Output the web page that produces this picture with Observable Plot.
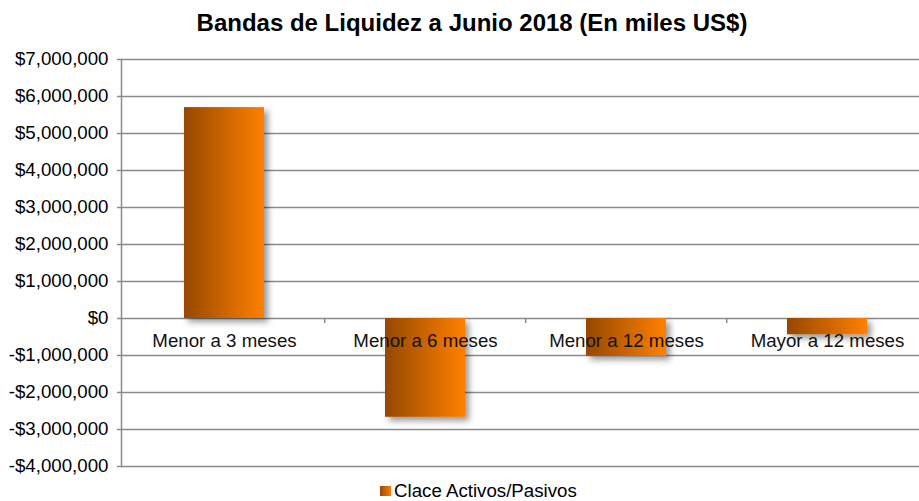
<!DOCTYPE html>
<html>
<head>
<meta charset="utf-8">
<script src="https://cdn.jsdelivr.net/npm/d3@7"></script>
<script src="https://cdn.jsdelivr.net/npm/@observablehq/plot@0.6"></script>
<style>
  html, body { margin: 0; padding: 0; background: #fff; }
  #wrap { position: relative; width: 919px; height: 501px; overflow: hidden; font-family: "Liberation Sans", Arial, sans-serif; color: #000; }
  #title { position: absolute; left: 0; top: 11px; width: 944px; text-align: center; font-weight: bold; font-size: 24px; line-height: 24px; white-space: nowrap; }
  #chart { position: absolute; left: 0; top: 45px; }
  #legend { position: absolute; left: 380px; top: 481px; font-size: 18.7px; line-height: 19px; white-space: nowrap; display: flex; align-items: center; }
  #legend .sw { display: inline-block; width: 11px; height: 10px; margin-right: 3px; background: linear-gradient(to right, #964800, #ff8000); }
</style>
</head>
<body>
<div id="wrap">
  <div id="title"></div>
  <div id="chart"></div>
  <div id="legend"><span class="sw"></span><span id="legtext"></span></div>
</div>
<script>
const chartTitle = "Bandas de Liquidez a Junio 2018 (En miles US$)";
const seriesName = "Clace Activos/Pasivos";
const categories = ["Menor a 3 meses", "Menor a 6 meses", "Menor a 12 meses", "Mayor a 12 meses"];
const values = [5700000, -2670000, -1020000, -440000];
const yTicks = [-4000000, -3000000, -2000000, -1000000, 0, 1000000, 2000000, 3000000, 4000000, 5000000, 6000000, 7000000];

document.getElementById("title").textContent = chartTitle;
document.getElementById("legtext").textContent = seriesName;

const data = categories.map((c, i) => ({category: c, value: values[i]}));
const fmt = d => (d < 0 ? "-" : "") + "$" + d3.format(",")(Math.abs(d));

const H = 430, mTop = 14, mBottom = 9;
const pxPerUnit = (H - mTop - mBottom) / (yTicks[yTicks.length - 1] - yTicks[0]);
const tickLen = 5 / pxPerUnit;
const step = (929 - 122.5) / categories.length;

const gridColor = "#8a8a8a";
const fs = 18.7;

const svg = Plot.plot({
  width: 919,
  height: H,
  marginTop: mTop,
  marginBottom: mBottom,
  marginLeft: 121,
  marginRight: 0,
  style: {fontFamily: "Liberation Sans, Arial, sans-serif", fontSize: fs + "px", color: "#000", background: "#fff"},
  x: {domain: categories, range: [122.5, 929], paddingInner: 0.6, paddingOuter: 0.3, axis: null},
  y: {domain: [yTicks[0], yTicks[yTicks.length - 1]], axis: null},
  marks: [
    Plot.gridY(yTicks, {stroke: gridColor, strokeOpacity: 1, strokeWidth: 1.5}),
    Plot.frame({anchor: "left", stroke: gridColor, strokeWidth: 1.5}),
    Plot.axisY(yTicks, {tickFormat: fmt, tickSize: 4, tickPadding: 9, stroke: gridColor, strokeWidth: 1.5, fontSize: fs, fill: "#000", label: null}),
    Plot.ruleX(categories.slice(1), {x: d => d, y1: 0, y2: -tickLen, dx: -step / 2, stroke: gridColor, strokeWidth: 1.5}),
    Plot.barY(data, {x: "category", y: "value", fill: "url(#barGrad)"}),
    Plot.text(data, {x: "category", y: 0, text: "category", dy: 23, fontSize: fs, fill: "#111"})
  ]
});

const defs = d3.select(svg).insert("defs", ":first-child");
const g = defs.append("linearGradient").attr("id", "barGrad").attr("x1", "0").attr("x2", "1").attr("y1", "0").attr("y2", "0");
g.append("stop").attr("offset", "0").attr("stop-color", "#964800");
g.append("stop").attr("offset", "1").attr("stop-color", "#ff8000");
const f = defs.append("filter").attr("id", "shadow").attr("x", "-20%").attr("y", "-20%").attr("width", "150%").attr("height", "150%");
f.append("feDropShadow").attr("dx", 4).attr("dy", 4).attr("stdDeviation", 3).attr("flood-color", "#000").attr("flood-opacity", 0.4);
const barG = svg.querySelector('g[aria-label="bar"]');
if (barG) barG.setAttribute("filter", "url(#shadow)");

document.getElementById("chart").appendChild(svg);
</script>
</body>
</html>
